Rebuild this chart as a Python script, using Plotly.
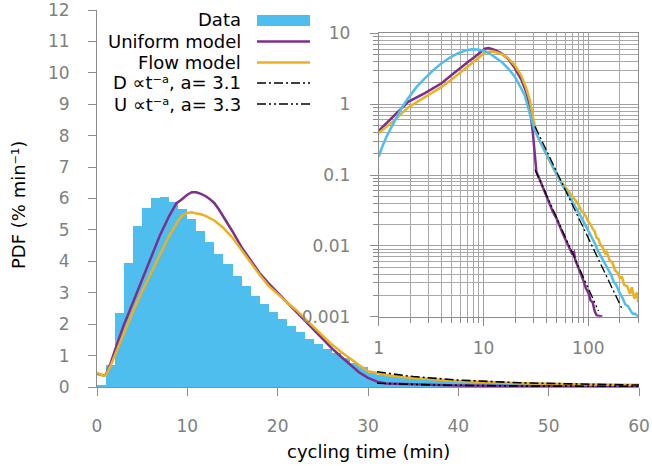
import math
import plotly.graph_objects as go

# ---------------- data ----------------
# main histogram: 1-min bins, left edges
bin_left = list(range(0, 60))
bar_vals = [0.04, 0.70, 2.35, 3.94, 5.11, 5.71, 6.01, 6.04, 5.90, 5.67,
            5.34, 4.95, 4.63, 4.24, 3.91, 3.54, 3.22, 2.90, 2.64, 2.39,
            2.16, 1.95, 1.74, 1.54, 1.37, 1.22, 1.07, 0.91, 0.75, 0.65,
            0.45, 0.39, 0.35, 0.32, 0.29, 0.27, 0.25, 0.23, 0.21, 0.19,
            0.18, 0.165, 0.155, 0.145, 0.138, 0.13, 0.122, 0.115, 0.108, 0.10,
            0.095, 0.09, 0.085, 0.08, 0.076, 0.072, 0.068, 0.064, 0.06, 0.057]

# main panel model curves (linear axes)
t_uni = [0, 0.5, 0.8, 1, 1.5, 2, 2.5, 3, 3.5, 4, 5, 6, 7, 8, 8.8, 9.3, 10, 10.5, 11, 11.5,
         12, 12.5, 13, 13.5, 14, 15, 16, 17, 18, 19, 20, 21, 22, 23, 24, 25, 26, 27, 28, 29,
         30, 31, 32, 34, 37, 40, 43, 46, 50, 53, 57, 61]
v_uni = [0.42, 0.38, 0.36, 0.41, 0.75, 1.18, 1.6, 2.0, 2.35, 2.7, 3.45, 4.1, 4.85, 5.45, 5.85, 5.95, 6.12, 6.2, 6.2, 6.15,
         6.08, 5.98, 5.85, 5.65, 5.42, 4.95, 4.45, 4.02, 3.63, 3.3, 3.0, 2.7, 2.42, 2.1, 1.8, 1.5, 1.23, 0.97, 0.71, 0.47,
         0.29, 0.17, 0.11, 0.09, 0.066, 0.05, 0.04, 0.03, 0.024, 0.019, 0.015, 0.012]
t_flow = [0, 0.5, 0.8, 1, 1.5, 2, 2.5, 3, 3.5, 4, 5, 6, 7, 8, 9, 9.5, 10, 10.5, 11, 11.5,
          12, 12.5, 13, 14, 15, 16, 17, 18, 19, 20, 21, 22, 23, 24, 25, 26, 27, 28, 29, 30,
          31, 32, 34, 37, 40, 46, 50, 57, 60, 63]
v_flow = [0.46, 0.38, 0.36, 0.39, 0.68, 1.02, 1.38, 1.75, 2.1, 2.42, 3.05, 3.65, 4.25, 4.82, 5.3, 5.48, 5.54, 5.56, 5.52, 5.5,
          5.45, 5.38, 5.3, 5.06, 4.75, 4.36, 3.96, 3.57, 3.22, 2.95, 2.7, 2.46, 2.18, 1.88, 1.6, 1.35, 1.12, 0.9, 0.7, 0.5,
          0.43, 0.38, 0.31, 0.24, 0.19, 0.13, 0.1, 0.075, 0.068, 0.062]

# inset (log-log) curves
ti_data = [1, 1.07, 1.2, 1.43, 1.65, 1.91, 2.3, 2.76, 3.3, 3.98, 4.8, 5.73, 6.7, 7.7, 8.8, 10.3, 12, 14.8, 17, 19.9,
           22.2, 24.7, 27.6, 30.7, 33.5, 36.8, 41, 46, 53.4, 57, 60, 66, 70, 75, 80, 85, 90, 95, 100, 107,
           115, 122, 130, 137, 145, 155, 165, 175, 185, 198, 210, 225, 240, 255, 265, 280, 295, 300]
vi_data = [0.18, 0.24, 0.36, 0.6, 0.88, 1.21, 1.75, 2.32, 3.0, 3.78, 4.55, 5.23, 5.7, 5.96, 5.9, 5.63, 4.95, 3.98, 3.25, 2.44,
           1.8, 1.35, 0.74, 0.43, 0.33, 0.25, 0.18, 0.13, 0.085, 0.07, 0.063, 0.05, 0.043, 0.036, 0.031, 0.026, 0.022, 0.019, 0.0165, 0.0135,
           0.011, 0.0088, 0.0074, 0.0064, 0.0056, 0.0045, 0.0039, 0.0031, 0.0028, 0.0022, 0.0019, 0.0015, 0.0014, 0.0012, 0.0011, 0.0011, 0.001, 0.001]
ti_uni = [1, 1.43, 1.91, 2.76, 3.98, 4.96, 6.17, 7.2, 8.28, 9.3, 10.3, 11.2, 12.8, 14.8, 17.1, 20, 23, 25.5, 27.6, 29.6,
          31, 32, 34, 37, 40, 43, 46, 50, 53, 57, 61, 66, 70, 73, 75, 78, 82, 86, 90, 95,
          100, 105, 110, 115, 120, 128, 136]
vi_uni = [0.42, 0.7, 1.08, 1.43, 1.97, 2.58, 3.38, 4.0, 4.68, 5.4, 6.05, 6.2, 5.85, 5.2, 4.4, 3.2, 2.2, 1.5, 0.92, 0.39,
          0.2, 0.11, 0.09, 0.066, 0.05, 0.04, 0.03, 0.024, 0.019, 0.015, 0.012, 0.0095, 0.0078, 0.0082, 0.0064, 0.0055, 0.0046, 0.0037, 0.0032, 0.0025,
          0.0022, 0.0017, 0.0016, 0.0012, 0.00105, 0.00102, 0.00101]
ti_flow = [1, 1.43, 1.91, 2.76, 3.98, 5, 6.17, 7.2, 8.28, 9.3, 10.3, 11.5, 12.8, 15.3, 17.1, 20, 23, 25.5, 27.6, 30,
           32, 34, 37, 40, 46, 50, 57, 60, 63, 66, 70, 74, 78, 82, 86, 90, 95, 100, 105, 110,
           115, 120, 125, 130, 137, 145, 150, 160, 170, 180, 190, 200, 210, 220, 235, 250, 260, 275, 290, 300]
vi_flow = [0.39, 0.6, 0.9, 1.25, 1.75, 2.25, 2.9, 3.5, 4.2, 4.8, 5.33, 5.55, 5.5, 5.0, 4.5, 3.5, 2.5, 1.7, 1.15, 0.6,
           0.39, 0.31, 0.24, 0.19, 0.13, 0.1, 0.075, 0.068, 0.062, 0.058, 0.052, 0.045, 0.041, 0.036, 0.031, 0.029, 0.026, 0.022, 0.02, 0.0175,
           0.016, 0.013, 0.0125, 0.0105, 0.0095, 0.0078, 0.0082, 0.0062, 0.0058, 0.0045, 0.0042, 0.0035, 0.0036, 0.0028, 0.0027, 0.0021, 0.0026, 0.0018, 0.0022, 0.0016]

# power-law fits: exponent, reference point (t, value), fitted range
D_a, D_ref_t, D_ref_v, D_range = 3.1, 32, 0.44, (31, 210)
U_a, U_ref_t, U_ref_v, U_range = 3.3, 32, 0.108, (31, 125)

legend_labels = ["Data", "Uniform model", "Flow model",
                 "D \u221dt\u207b\u1d43, a= 3.1", "U \u221dt\u207b\u1d43, a= 3.3"]

C_DATA, C_UNI, C_FLOW = "#4DBEEE", "#7E2F8E", "#EDB120"
GRAY, LGRAY = "#808080", "#8c8c8c"
FONT = "DejaVu Sans"
W, H = 652, 466


def powerlaw(a, rt, rv, rng, n=80):
    lo, hi = math.log(rng[0]), math.log(rng[1])
    ts = [math.exp(lo + (hi - lo) * i / (n - 1)) for i in range(n)]
    return ts, [rv * (t / rt) ** (-a) for t in ts]


def px(x):
    return x / W


def py(y):
    return 1 - y / H


fig = go.Figure()
fig.add_trace(go.Bar(x=bin_left, y=bar_vals, width=1, offset=0,
                     marker=dict(color=C_DATA, line=dict(width=0)),
                     showlegend=False, xaxis="x", yaxis="y"))
fig.add_trace(go.Scatter(x=t_uni, y=v_uni, mode="lines", line=dict(color=C_UNI, width=2.5),
                         showlegend=False, xaxis="x", yaxis="y"))
fig.add_trace(go.Scatter(x=t_flow, y=v_flow, mode="lines", line=dict(color=C_FLOW, width=2.5),
                         showlegend=False, xaxis="x", yaxis="y"))
DASH_D = "9px,3px,2px,3px"
DASH_U = "9px,3px,2px,3px,2px,3px"
dt, dv = powerlaw(D_a, D_ref_t, D_ref_v, D_range)
ut, uv = powerlaw(U_a, U_ref_t, U_ref_v, U_range)
for (xs, ys, dash) in [(dt, dv, DASH_D), (ut, uv, DASH_U)]:
    fig.add_trace(go.Scatter(x=xs, y=ys, mode="lines", line=dict(color="black", width=1.6, dash=dash),
                             showlegend=False, xaxis="x", yaxis="y"))

# inset
fig.add_trace(go.Scatter(x=ti_uni, y=vi_uni, mode="lines", line=dict(color=C_UNI, width=2.5),
                         showlegend=False, xaxis="x2", yaxis="y2"))
fig.add_trace(go.Scatter(x=ti_flow, y=vi_flow, mode="lines", line=dict(color=C_FLOW, width=2.5),
                         showlegend=False, xaxis="x2", yaxis="y2"))
fig.add_trace(go.Scatter(x=ti_data, y=vi_data, mode="lines", line=dict(color=C_DATA, width=2.5),
                         showlegend=False, xaxis="x2", yaxis="y2"))
for (xs, ys, dash) in [(dt, dv, DASH_D), (ut, uv, DASH_U)]:
    fig.add_trace(go.Scatter(x=xs, y=ys, mode="lines", line=dict(color="black", width=1.3, dash=dash),
                             showlegend=False, xaxis="x2", yaxis="y2"))

tickfont = dict(family=FONT, size=17, color=GRAY)
minor_x = [m * 10 ** e for e in range(0, 3) for m in range(2, 10) if m * 10 ** e <= 300]
minor_y = [m * 10 ** e for e in range(-3, 1) for m in range(2, 10)]

common = dict(ticks="outside", ticklen=8, tickcolor=LGRAY, showline=True, linecolor=LGRAY,
              zeroline=False, tickfont=tickfont, automargin=False, ticklabeloverflow="allow")

fig.update_layout(
    width=W, height=H, margin=dict(l=0, r=0, t=0, b=0, autoexpand=False),
    paper_bgcolor="white", plot_bgcolor="rgba(0,0,0,0)",
    font=dict(family=FONT, size=18, color="black"),
    bargap=0, showlegend=False,
    xaxis=dict(domain=[px(97), px(639)], range=[0, 60], tickvals=list(range(0, 61, 10)),
               showgrid=False, ticklabelstandoff=16, anchor="y", **common),
    yaxis=dict(domain=[py(387), py(10)], range=[0, 12], tickvals=list(range(0, 13)),
               showgrid=False, ticklabelstandoff=15, anchor="x", **common),
    xaxis2=dict(domain=[px(378.7), px(638.3)], type="log", range=[0, math.log10(300)],
                tickvals=[1, 10, 100], ticktext=["1", "10", "100"], anchor="y2", mirror=True,
                showgrid=True, gridcolor="#a0a0a0", gridwidth=1,
                minor=dict(tickvals=minor_x, ticks="outside", ticklen=5, tickcolor=LGRAY,
                           showgrid=True, gridcolor="#a8a8a8", gridwidth=1),
                ticklabelstandoff=8, **common),
    yaxis2=dict(domain=[py(316.7), py(33.3)], type="log", range=[-3, 1],
                tickvals=[0.001, 0.01, 0.1, 1, 10], ticktext=["0.001", "0.01", "0.1", "1", "10"], anchor="x2",
                mirror=True, showgrid=True, gridcolor="#a0a0a0", gridwidth=1,
                minor=dict(tickvals=minor_y, ticks="outside", ticklen=5, tickcolor=LGRAY,
                           showgrid=True, gridcolor="#a8a8a8", gridwidth=1),
                ticklabelstandoff=16, **common),
)

annotations = [
    dict(text="cycling time (min)", x=px(368), y=py(451), xref="paper", yref="paper",
         showarrow=False, xanchor="center", yanchor="middle", font=dict(size=18, color="black")),
    dict(text="PDF (% min\u207b\u00b9)", x=px(18), y=py(205), xref="paper", yref="paper",
         showarrow=False, textangle=-90, xanchor="center", yanchor="middle", font=dict(size=18, color="black")),
]
rows = [20, 41.5, 62.5, 83, 104]
for lab, ry in zip(legend_labels, rows):
    annotations.append(dict(text=lab, x=px(243), y=py(ry), xref="paper", yref="paper", showarrow=False,
                            xanchor="right", yanchor="middle", font=dict(size=18, color="black")))
fig.update_layout(annotations=annotations)

shapes = [dict(type="rect", xref="paper", yref="paper", x0=px(257), x1=px(310), y0=py(26), y1=py(15),
               fillcolor=C_DATA, line=dict(width=0))]
for ry, col, dash, w in [(rows[1], C_UNI, "solid", 2.5), (rows[2], C_FLOW, "solid", 2.5),
                         (rows[3], "black", DASH_D, 1.6), (rows[4], "black", DASH_U, 1.6)]:
    shapes.append(dict(type="line", xref="paper", yref="paper", x0=px(257), x1=px(310), y0=py(ry), y1=py(ry),
                       line=dict(color=col, width=w, dash=dash)))
fig.update_layout(shapes=shapes)

fig.write_html("out.html", config={"displayModeBar": False},
               post_script="document.body.style.margin='0';document.body.style.overflow='hidden';")
